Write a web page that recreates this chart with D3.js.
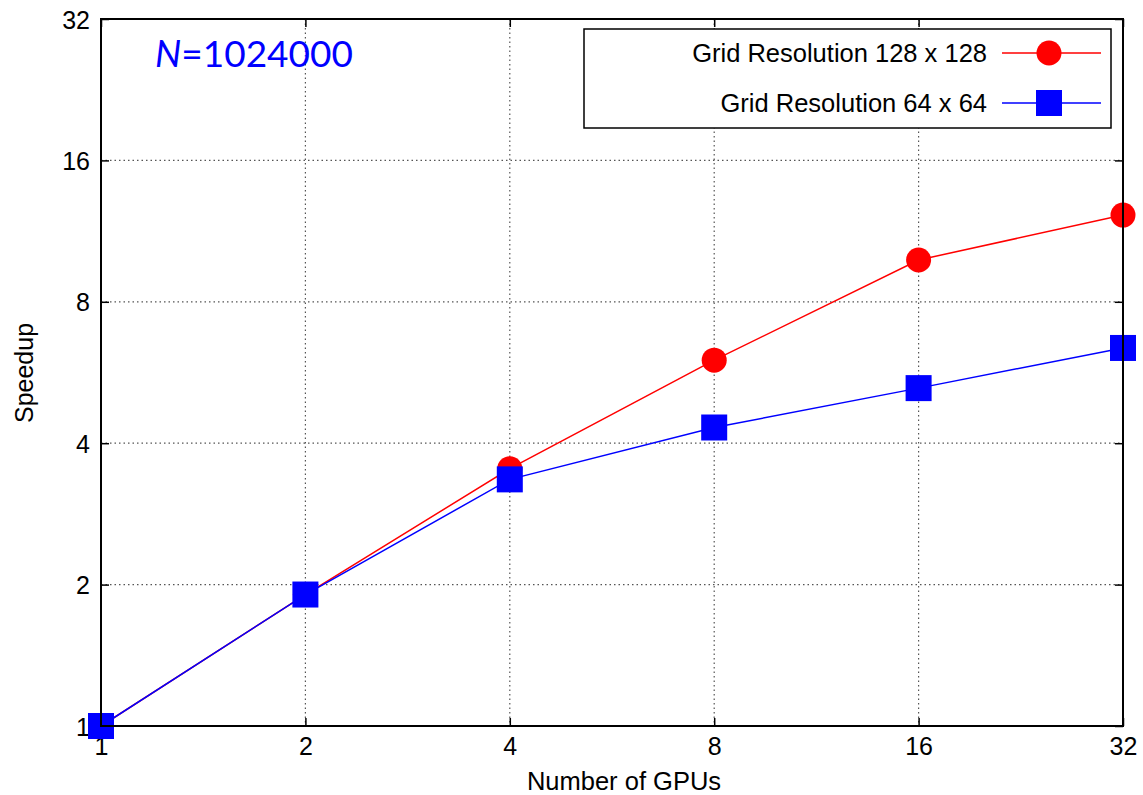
<!DOCTYPE html>
<html>
<head>
<meta charset="utf-8">
<script src="https://cdn.jsdelivr.net/npm/d3@7"></script>
<style>
  html, body { margin: 0; padding: 0; background: #fff; }
  svg { display: block; }
</style>
</head>
<body>
<svg id="chart" width="1143" height="795"></svg>
<script>
// GPU counts and measured speedups for two grid resolutions
const gpus = [1, 2, 4, 8, 16, 32];
const speedup128 = [1.0, 1.905, 3.53, 6.01, 9.82, 12.24];
const speedup64 = [1.0, 1.905, 3.35, 4.32, 5.24, 6.38];
const xTicks = [1, 2, 4, 8, 16, 32];
const yTicks = [1, 2, 4, 8, 16, 32];
const seriesNames = ["Grid Resolution 128 x 128", "Grid Resolution 64 x 64"];

(function draw() {
  const svg = d3.select("#chart");
  const plotL = 101, plotR = 1123, plotT = 19, plotB = 726;
  const font = "'Liberation Sans', Arial, Helvetica, sans-serif";

  const x = d3.scaleLog().base(2).domain([1, 32]).range([plotL, plotR]);
  const y = d3.scaleLog().base(2).domain([1, 32]).range([plotB, plotT]);

  // dotted grid
  const grid = svg.append("g");
  grid.selectAll("line.gx").data(xTicks.slice(1, -1)).join("line")
    .attr("x1", d => x(d)).attr("x2", d => x(d))
    .attr("y1", plotT).attr("y2", plotB)
    .attr("stroke", "#555").attr("stroke-width", 1.2).attr("stroke-dasharray", "1.5,3");
  grid.selectAll("line.gy").data(yTicks.slice(1, -1)).join("line")
    .attr("y1", d => y(d)).attr("y2", d => y(d))
    .attr("x1", plotL).attr("x2", plotR)
    .attr("stroke", "#555").attr("stroke-width", 1.2).attr("stroke-dasharray", "1.5,3");

  // axes: labelled bottom/left, mirrored inward ticks on all sides
  const tickLen = 8;
  const gx = svg.append("g").attr("transform", `translate(0,${plotB})`)
    .call(d3.axisBottom(x).tickValues(xTicks).tickFormat(d3.format("d")).tickSizeInner(-tickLen).tickSizeOuter(0).tickPadding(11));
  const gy = svg.append("g").attr("transform", `translate(${plotL},0)`)
    .call(d3.axisLeft(y).tickValues(yTicks).tickFormat(d3.format("d")).tickSizeInner(-tickLen).tickSizeOuter(0).tickPadding(11));
  const gxTop = svg.append("g").attr("transform", `translate(0,${plotT})`)
    .call(d3.axisTop(x).tickValues(xTicks).tickFormat("").tickSizeInner(-tickLen).tickSizeOuter(0));
  const gyRight = svg.append("g").attr("transform", `translate(${plotR},0)`)
    .call(d3.axisRight(y).tickValues(yTicks).tickFormat("").tickSizeInner(-tickLen).tickSizeOuter(0));
  [gx, gy, gxTop, gyRight].forEach(g => {
    g.select(".domain").remove();
    g.selectAll(".tick line").attr("stroke", "#000").attr("stroke-width", 1.5);
    g.selectAll("text").attr("font-family", font).attr("font-size", 25).attr("fill", "#000");
  });
  gx.selectAll("text").attr("dy", "0.72em");
  gy.selectAll("text").attr("dy", "0.36em");

  // series lines and markers
  const line = d3.line().x(d => x(d[0])).y(d => y(d[1]));
  const red = gpus.map((g, i) => [g, speedup128[i]]);
  const blue = gpus.map((g, i) => [g, speedup64[i]]);

  svg.append("path").datum(red).attr("d", line)
    .attr("fill", "none").attr("stroke", "#ff0000").attr("stroke-width", 1.5);
  svg.append("g").selectAll("circle").data(red).join("circle")
    .attr("cx", d => x(d[0])).attr("cy", d => y(d[1])).attr("r", 12.5).attr("fill", "#ff0000");

  svg.append("path").datum(blue).attr("d", line)
    .attr("fill", "none").attr("stroke", "#0000ff").attr("stroke-width", 1.5);
  svg.append("g").selectAll("rect").data(blue).join("rect")
    .attr("x", d => x(d[0]) - 13).attr("y", d => y(d[1]) - 13)
    .attr("width", 26).attr("height", 26).attr("fill", "#0000ff");

  // plot frame
  svg.append("rect").attr("x", plotL).attr("y", plotT)
    .attr("width", plotR - plotL).attr("height", plotB - plotT)
    .attr("fill", "none").attr("stroke", "#000").attr("stroke-width", 2);

  // axis titles
  svg.append("text").attr("x", 624).attr("y", 790)
    .attr("text-anchor", "middle").attr("font-family", font).attr("font-size", 25.5)
    .text("Number of GPUs");
  svg.append("text").attr("transform", `translate(33,373) rotate(-90)`)
    .attr("text-anchor", "middle").attr("font-family", font).attr("font-size", 25)
    .text("Speedup");

  // annotation
  const ann = svg.append("text").attr("x", 155).attr("y", 67)
    .attr("font-family", "Lato, 'Open Sans', sans-serif").attr("font-size", 37).attr("fill", "#0000ff");
  ann.append("tspan").attr("font-style", "italic").text("N");
  ann.append("tspan").text("=1024000");

  // legend
  const lg = svg.append("g");
  lg.append("rect").attr("x", 584).attr("y", 29).attr("width", 527).attr("height", 99)
    .attr("fill", "#fff").attr("stroke", "#000").attr("stroke-width", 1.5);
  const rows = [
    { name: seriesNames[0], color: "#ff0000", shape: "circle", yy: 53 },
    { name: seriesNames[1], color: "#0000ff", shape: "square", yy: 103 }
  ];
  rows.forEach(r => {
    lg.append("text").attr("x", 987).attr("y", r.yy).attr("dy", "0.36em")
      .attr("text-anchor", "end").attr("font-family", font).attr("font-size", 25.5)
      .text(r.name);
    lg.append("line").attr("x1", 1002).attr("x2", 1101).attr("y1", r.yy).attr("y2", r.yy)
      .attr("stroke", r.color).attr("stroke-width", 1.5);
    if (r.shape === "circle") {
      lg.append("circle").attr("cx", 1049).attr("cy", r.yy).attr("r", 12.5).attr("fill", r.color);
    } else {
      lg.append("rect").attr("x", 1036).attr("y", r.yy - 13).attr("width", 26).attr("height", 26).attr("fill", r.color);
    }
  });
})();
</script>
</body>
</html>
